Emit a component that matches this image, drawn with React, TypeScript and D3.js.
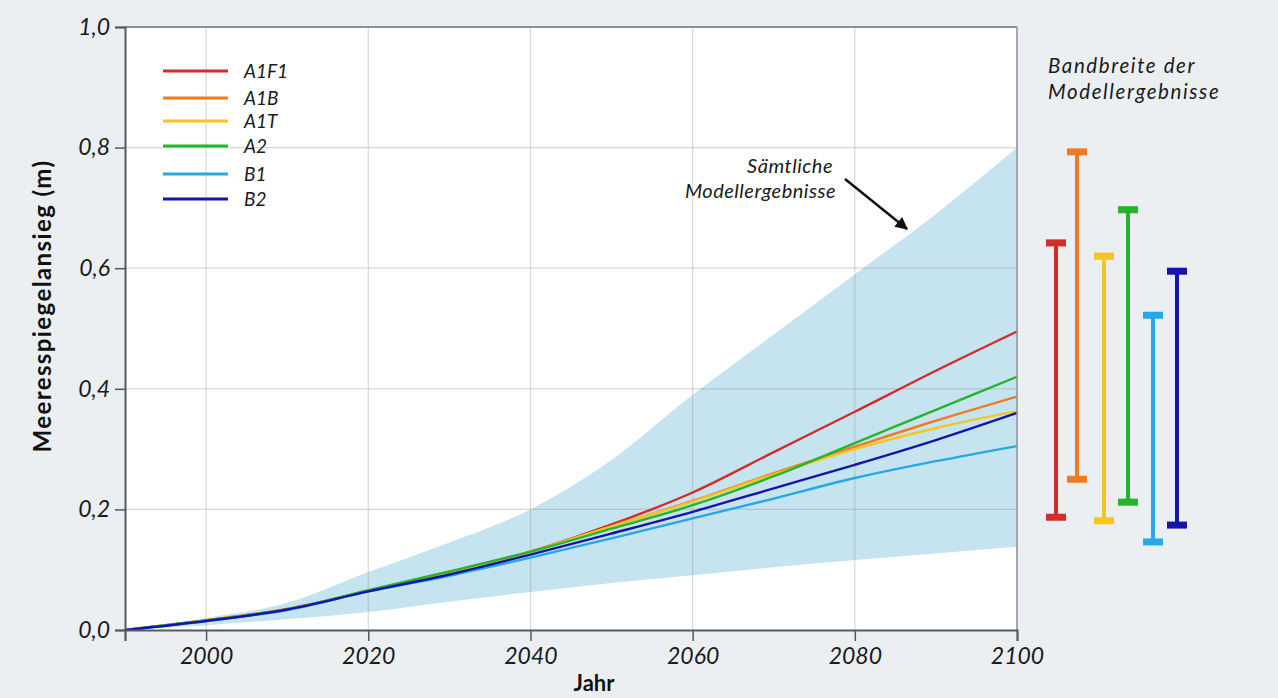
import React from 'react';
import * as d3 from 'd3';

// decades
const years = [1990, 2000, 2010, 2020, 2030, 2040, 2050, 2060, 2070, 2080, 2090, 2100];
const bandLow = [0, 0.008, 0.018, 0.03, 0.047, 0.063, 0.078, 0.091, 0.104, 0.116, 0.127, 0.138];
const bandHigh = [0, 0.02, 0.045, 0.096, 0.145, 0.2, 0.282, 0.39, 0.49, 0.59, 0.69, 0.8];

const seriesNames = ['A1F1', 'A1B', 'A1T', 'A2', 'B1', 'B2'];
const seriesColors = ['#d42b2b', '#f07b22', '#f5c526', '#25b52a', '#25a8e6', '#1414aa'];
const a1f1 = [0, 0.016, 0.035, 0.065, 0.095, 0.13, 0.175, 0.228, 0.295, 0.362, 0.43, 0.495];
const a1b = [0, 0.016, 0.034, 0.064, 0.095, 0.13, 0.172, 0.214, 0.26, 0.304, 0.347, 0.387];
const a1t = [0, 0.016, 0.034, 0.064, 0.095, 0.13, 0.172, 0.213, 0.258, 0.3, 0.335, 0.363];
const a2 = [0, 0.016, 0.034, 0.066, 0.097, 0.13, 0.168, 0.207, 0.255, 0.31, 0.365, 0.42];
const b1 = [0, 0.015, 0.033, 0.064, 0.09, 0.12, 0.152, 0.185, 0.218, 0.252, 0.28, 0.305];
const b2 = [0, 0.015, 0.034, 0.064, 0.092, 0.125, 0.16, 0.196, 0.235, 0.274, 0.315, 0.36];
const seriesValues = [a1f1, a1b, a1t, a2, b1, b2];

// range of model results in 2100
const rangeLow = [0.187, 0.25, 0.181, 0.212, 0.146, 0.174];
const rangeHigh = [0.642, 0.793, 0.62, 0.697, 0.522, 0.595];

const xTicks = [2000, 2020, 2040, 2060, 2080, 2100];
const yTicks = [0, 0.2, 0.4, 0.6, 0.8, 1.0];

const W = 1278, H = 698;
const margin = { left: 125, right: 261, top: 27, bottom: 68 };
const font = 'Lato, "Open Sans", sans-serif';

export default function App() {
  const ref = React.useRef<SVGSVGElement>(null);

  React.useEffect(() => {
    const svg = d3.select(ref.current);
    svg.selectAll('*').remove();

    const width = W - margin.left - margin.right;
    const height = H - margin.top - margin.bottom;

    const x = d3.scaleLinear().domain([1990, 2100]).range([0, width]);
    const y = d3.scaleLinear().domain([0, 1]).range([height, 0]);

    svg.append('rect').attr('width', W).attr('height', H).attr('fill', '#eceff2');

    const g = svg.append('g').attr('transform', `translate(${margin.left},${margin.top})`);
    g.append('rect').attr('width', width).attr('height', height).attr('fill', '#ffffff');

    // band of all model results
    const area = d3.area<number>()
      .x((d, i) => x(years[i]))
      .y0((d, i) => y(bandLow[i]))
      .y1((d) => y(d))
      .curve(d3.curveMonotoneX);
    g.append('path').datum(bandHigh).attr('d', area).attr('fill', '#c6e4f0');

    // grid
    g.selectAll('.vgrid').data(xTicks.slice(0, -1)).enter().append('line')
      .attr('x1', (d) => x(d)).attr('x2', (d) => x(d))
      .attr('y1', 0).attr('y2', height)
      .attr('stroke', '#8a8f94').attr('stroke-opacity', 0.35).attr('stroke-width', 1.2);
    g.selectAll('.hgrid').data(yTicks.slice(1, -1)).enter().append('line')
      .attr('x1', 0).attr('x2', width)
      .attr('y1', (d) => y(d)).attr('y2', (d) => y(d))
      .attr('stroke', '#8a8f94').attr('stroke-opacity', 0.35).attr('stroke-width', 1.2);

    // scenario lines
    const line = d3.line<number>()
      .x((d, i) => x(years[i]))
      .y((d) => y(d))
      .curve(d3.curveMonotoneX);
    seriesValues.forEach((vals, k) => {
      g.append('path').datum(vals).attr('d', line)
        .attr('fill', 'none').attr('stroke', seriesColors[k]).attr('stroke-width', 2.4);
    });

    // frame
    g.append('line').attr('x1', 0).attr('x2', width).attr('y1', 0).attr('y2', 0)
      .attr('stroke', '#6b6f73').attr('stroke-width', 1.5);
    g.append('line').attr('x1', width).attr('x2', width).attr('y1', 0).attr('y2', height)
      .attr('stroke', '#8a8f94').attr('stroke-width', 1.5);

    // axes
    const yAxis = g.append('g').call(
      d3.axisLeft(y).tickValues(yTicks).tickSize(10).tickPadding(5)
        .tickFormat((d) => d3.format('.1f')(d as number).replace('.', ','))
    );
    const xAxis = g.append('g').attr('transform', `translate(0,${height})`).call(
      d3.axisBottom(x).tickValues([1990, ...xTicks]).tickSize(11).tickPadding(7)
        .tickFormat((d) => (d === 1990 ? '' : String(d)))
    );
    [yAxis, xAxis].forEach((a) => {
      a.select('.domain').attr('stroke', '#555a5e').attr('stroke-width', 2);
      a.selectAll('.tick line').attr('stroke', '#555a5e').attr('stroke-width', 1.5);
      a.selectAll('text').attr('font-family', font).attr('font-style', 'italic')
        .attr('font-size', 23).attr('fill', '#1a1a1a');
    });

    // axis titles
    svg.append('text').attr('x', 594).attr('y', 691)
      .attr('text-anchor', 'middle').attr('font-family', font).attr('font-weight', 'bold')
      .attr('font-size', 22).attr('fill', '#111').text('Jahr');
    svg.append('text').attr('transform', 'translate(51,306) rotate(-90)')
      .attr('text-anchor', 'middle').attr('font-family', font).attr('font-weight', 'bold')
      .attr('font-size', 24).attr('letter-spacing', 1.4).attr('fill', '#111')
      .text('Meeresspiegelansieg (m)');

    // legend
    const leg = svg.append('g').attr('transform', 'translate(163,71)');
    seriesNames.forEach((name, k) => {
      const yy = [0, 27, 50, 75, 103, 128][k];
      leg.append('line').attr('x1', 0).attr('x2', 65).attr('y1', yy).attr('y2', yy)
        .attr('stroke', seriesColors[k]).attr('stroke-width', 3);
      leg.append('text').attr('x', 81).attr('y', yy + 7).attr('font-family', font)
        .attr('font-style', 'italic').attr('font-size', 19).attr('fill', '#1a1a1a').text(name);
    });

    // annotation
    const ann = svg.append('g').attr('font-family', font).attr('font-style', 'italic')
      .attr('font-size', 20).attr('letter-spacing', 0.5).attr('fill', '#1a1a1a')
      .attr('text-anchor', 'end');
    ann.append('text').attr('x', 833).attr('y', 173).text('Sämtliche');
    ann.append('text').attr('x', 836).attr('y', 198).text('Modellergebnisse');
    svg.append('defs').append('marker').attr('id', 'arr').attr('viewBox', '0 0 10 10')
      .attr('refX', 9).attr('refY', 5).attr('markerWidth', 6).attr('markerHeight', 5)
      .attr('orient', 'auto').append('path').attr('d', 'M0,0L10,5L0,10z').attr('fill', '#111');
    svg.append('line').attr('x1', 845).attr('y1', 179).attr('x2', 907).attr('y2', 229)
      .attr('stroke', '#111').attr('stroke-width', 2.5).attr('marker-end', 'url(#arr)');

    // range bars
    const rt = svg.append('g').attr('font-family', font).attr('font-style', 'italic')
      .attr('font-size', 20.5).attr('letter-spacing', 1.6).attr('fill', '#1a1a1a');
    rt.append('text').attr('x', 1048).attr('y', 73).text('Bandbreite der');
    rt.append('text').attr('x', 1048).attr('y', 98.5).text('Modellergebnisse');
    const barX = [1056, 1077, 1104, 1128, 1153, 1177];
    const bars = svg.append('g').attr('transform', `translate(0,${margin.top})`);
    seriesNames.forEach((name, k) => {
      const c = seriesColors[k];
      const bx = barX[k];
      bars.append('line').attr('x1', bx).attr('x2', bx)
        .attr('y1', y(rangeHigh[k])).attr('y2', y(rangeLow[k]))
        .attr('stroke', c).attr('stroke-width', 4);
      [rangeHigh[k], rangeLow[k]].forEach((v) => {
        bars.append('rect').attr('x', bx - 10).attr('y', y(v) - 3.5)
          .attr('width', 20).attr('height', 7).attr('fill', c);
      });
    });
  }, []);

  return (
    <svg ref={ref} width={W} height={H}
      style={{ position: 'absolute', left: 0, top: 0, display: 'block' }} />
  );
}
